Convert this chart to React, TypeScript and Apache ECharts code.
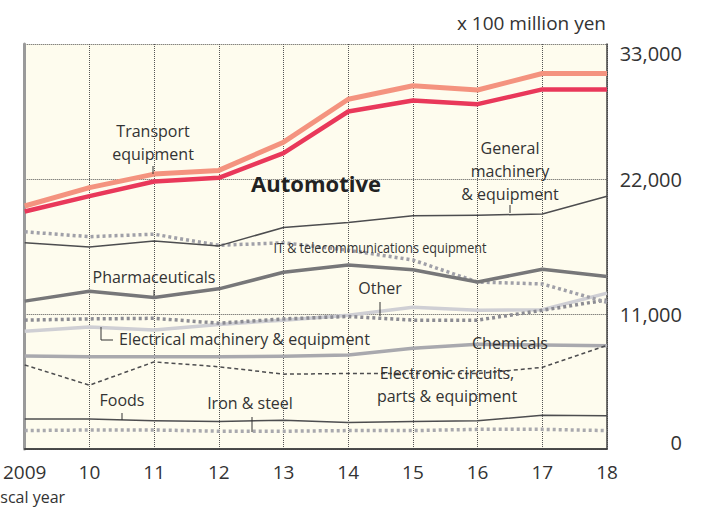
import React, { useEffect, useRef } from "react";
import * as echarts from "echarts";

const years = ["2009", "10", "11", "12", "13", "14", "15", "16", "17", "18"];
const transport = [19800, 21300, 22400, 22700, 25000, 28500, 29600, 29250, 30600, 30600];
const automotive = [19350, 20600, 21800, 22100, 24100, 27500, 28400, 28100, 29300, 29300];
const generalMachinery = [16800, 16450, 16950, 16550, 18050, 18450, 19000, 19050, 19150, 20600];
const itTelecom = [17700, 17300, 17500, 16600, 16800, 16200, 15400, 13600, 13450, 11950];
const pharma = [12050, 12850, 12350, 13050, 14400, 15000, 14600, 13600, 14650, 14050];
const other = [9600, 9950, 9700, 10150, 10500, 10900, 11550, 11300, 11350, 12700];
const electrical = [10500, 10600, 10650, 10250, 10600, 10800, 10500, 10500, 11300, 12150];
const chemicals = [7580, 7520, 7520, 7520, 7550, 7650, 8200, 8530, 8470, 8420];
const electronic = [6850, 5200, 7100, 6700, 6100, 6150, 6150, 6150, 6650, 8450];
const foods = [2450, 2450, 2300, 2250, 2350, 2150, 2250, 2300, 2750, 2700];
const ironSteel = [1500, 1550, 1550, 1450, 1450, 1500, 1500, 1600, 1600, 1500];

const FONT = '"Open Sans", "Noto Sans", sans-serif';
const TXT = "#333333";

function line(name: string, data: number[], color: string, width: number, type: any = "solid", z = 2) {
  return {
    name,
    type: "line",
    data,
    symbol: "none",
    z,
    lineStyle: { color, width, type, cap: "butt", join: "round" },
    silent: true,
  };
}

function label(text: string, x: number, y: number, extra: any = {}, el: any = {}) {
  return {
    type: "text",
    x,
    y,
    z: 100,
    ...el,
    style: {
      text,
      fill: TXT,
      fontSize: 16,
      fontFamily: FONT,
      align: "center",
      verticalAlign: "middle",
      lineHeight: 23,
      ...extra,
    },
  };
}

function tick(x1: number, y1: number, x2: number, y2: number) {
  return {
    type: "line",
    z: 100,
    shape: { x1, y1, x2, y2 },
    style: { stroke: "#333", lineWidth: 1 },
  };
}

export default function App() {
  const ref = useRef<HTMLDivElement>(null);
  useEffect(() => {
    if (!ref.current) return;
    const chart = echarts.init(ref.current, null, { renderer: "svg" });
    const axisFont = { fontSize: 19, color: TXT, fontFamily: FONT };
    const yFont = { fontSize: 20, color: TXT, fontFamily: FONT };
    chart.setOption({
      animation: false,
      backgroundColor: "#ffffff",
      grid: {
        left: 24,
        right: 109,
        top: 44,
        bottom: 60,
        show: true,
        backgroundColor: "#FEFCEE",
        borderWidth: 0,
      },
      xAxis: [
        {
          type: "category",
          data: years,
          boundaryGap: false,
          position: "bottom",
          axisLine: { show: true, lineStyle: { color: "#7a7a7a", width: 1.5 } },
          axisTick: { show: false },
          axisLabel: { ...axisFont, margin: 13, interval: 0 },
          splitLine: { show: true, lineStyle: { type: "dotted", color: "#555", width: 1 } },
        },
        {
          type: "category",
          data: years,
          boundaryGap: false,
          position: "top",
          axisLine: { show: true, lineStyle: { color: "#333", width: 1.5 } },
          axisTick: { show: false },
          axisLabel: { show: false },
          splitLine: { show: false },
        },
      ],
      yAxis: [
        {
          type: "value",
          position: "right",
          min: 0,
          max: 33000,
          interval: 11000,
          axisLine: { show: true, lineStyle: { color: "#444", width: 1.5 } },
          axisTick: { show: false },
          splitLine: { show: true, lineStyle: { type: "dotted", color: "#555", width: 1 } },
          axisLabel: {
            margin: 75,
            align: "right",
            ...yFont,
            formatter: (v: number) => {
              const s = v.toLocaleString("en-US");
              if (v === 33000) return "{t|" + s + "}";
              if (v === 0) return "{b|" + s + "}";
              return "{n|" + s + "}";
            },
            rich: {
              t: { ...yFont, padding: [18, 0, 0, 0] },
              b: { ...yFont, padding: [0, 0, 14, 0] },
              n: { ...yFont },
            },
          },
        },
        {
          type: "value",
          position: "left",
          min: 0,
          max: 33000,
          interval: 11000,
          axisLine: { show: true, lineStyle: { color: "#9a9a9a", width: 3 } },
          axisTick: { show: false },
          axisLabel: { show: false },
          splitLine: { show: false },
        },
      ],
      series: [
        line("Other", other, "#cfcfd4", 3.5, "solid", 2),
        line("Chemicals", chemicals, "#a9a9ae", 3.5, "solid", 2),
        line("Iron & steel", ironSteel, "#a9a9ae", 3.5, [3, 3], 2),
        line("Electrical machinery & equipment", electrical, "#8c8c93", 3.5, [3, 3], 3),
        line("IT & telecommunications equipment", itTelecom, "#a0a0a8", 3.5, [3, 3], 3),
        line("Pharmaceuticals", pharma, "#777779", 3.5, "solid", 3),
        line("Transport equipment", transport, "#F4937F", 5, "solid", 4),
        line("Automotive", automotive, "#E9385A", 4.5, "solid", 5),
        line("General machinery & equipment", generalMachinery, "#4d4d4f", 1.5, "solid", 4),
        line("Electronic circuits, parts & equipment", electronic, "#4d4d4f", 1.5, [4, 3], 4),
        line("Foods", foods, "#4d4d4f", 1.5, "solid", 4),
      ],
      graphic: [
        label("x 100 million yen", 606, 23, { fontSize: 19, align: "right" }),
        label("Fiscal year", -12, 497, { fontSize: 16, align: "left" }),
        label("Transport\nequipment", 153, 142),
        tick(153, 166, 153, 174),
        label("Automotive", 316, 183, { fontSize: 22, fontWeight: "bold", fill: "#222" }),
        label("General\nmachinery\n& equipment", 510, 171),
        tick(510, 205, 510, 213),
        label("IT & telecommunications equipment", 380, 247, { fontSize: 15 }, { scaleX: 0.84 }),
        label("Pharmaceuticals", 154, 277),
        tick(154, 290, 154, 296),
        label("Other", 380, 288),
        tick(380, 302, 380, 316),
        {
          type: "polyline",
          z: 100,
          shape: { points: [[101, 327], [101, 340], [113, 340]] },
          style: { stroke: "#333", lineWidth: 1, fill: null },
        },
        label("Electrical machinery & equipment", 119, 339, { align: "left" }),
        label("Chemicals", 510, 343),
        label("Electronic circuits,\nparts & equipment", 447, 384),
        label("Foods", 122, 400),
        tick(122, 413, 122, 420),
        label("Iron & steel", 250, 403),
        tick(252, 417, 252, 432),
      ],
    });
    return () => chart.dispose();
  }, []);
  return (
    <div
      ref={ref}
      style={{ position: "absolute", left: 0, top: 0, width: 716, height: 509 }}
    />
  );
}
